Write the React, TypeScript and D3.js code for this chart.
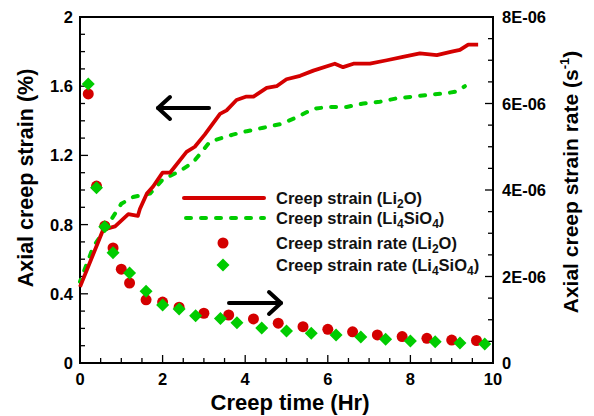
import React from "react";
import * as d3 from "d3";

const strainLi2OTime = [0, 0.56, 0.85, 1.17, 1.4, 1.45, 1.62, 1.77, 2.0, 2.18, 2.58, 2.78, 3.02, 3.39, 3.55, 3.79, 4.03, 4.2, 4.52, 4.76, 5.0, 5.33, 5.65, 6.17, 6.37, 6.62, 7.02, 7.43, 7.82, 8.23, 8.64, 9.0, 9.2, 9.4, 9.64];
const strainLi2O = [0.44, 0.77, 0.79, 0.86, 0.85, 0.89, 0.98, 1.02, 1.10, 1.10, 1.22, 1.25, 1.32, 1.44, 1.46, 1.52, 1.54, 1.54, 1.59, 1.60, 1.64, 1.66, 1.69, 1.73, 1.71, 1.73, 1.73, 1.75, 1.77, 1.79, 1.78, 1.80, 1.81, 1.84, 1.84];

const strainLi4SiO4Time = [0, 0.32, 0.65, 1.0, 1.29, 1.7, 2.0, 2.42, 2.74, 3.15, 3.7, 4.04, 4.44, 4.84, 5.25, 5.65, 6.05, 6.46, 6.86, 7.26, 7.67, 8.07, 8.47, 8.89, 9.12, 9.32];
const strainLi4SiO4 = [0.47, 0.67, 0.79, 0.92, 0.96, 0.98, 1.06, 1.11, 1.16, 1.28, 1.32, 1.34, 1.36, 1.38, 1.42, 1.47, 1.48, 1.48, 1.50, 1.51, 1.53, 1.54, 1.55, 1.56, 1.57, 1.60];

const rateLi2OTime = [0.2, 0.4, 0.6, 0.8, 1.0, 1.2, 1.6, 2.0, 2.4, 3.0, 3.6, 4.2, 4.8, 5.4, 6.0, 6.6, 7.2, 7.8, 8.4, 9.0, 9.6];
const rateLi2O = [6.22e-6, 4.09e-6, 3.17e-6, 2.66e-6, 2.17e-6, 1.85e-6, 1.46e-6, 1.41e-6, 1.29e-6, 1.15e-6, 1.11e-6, 1.02e-6, 0.92e-6, 0.84e-6, 0.78e-6, 0.72e-6, 0.65e-6, 0.61e-6, 0.57e-6, 0.53e-6, 0.52e-6];

const rateLi4SiO4Time = [0.2, 0.4, 0.6, 0.8, 1.2, 1.6, 2.0, 2.4, 2.8, 3.4, 3.8, 4.4, 5.0, 5.6, 6.2, 6.8, 7.4, 8.0, 8.6, 9.2, 9.8];
const rateLi4SiO4 = [6.45e-6, 4.05e-6, 3.15e-6, 2.55e-6, 2.08e-6, 1.66e-6, 1.34e-6, 1.25e-6, 1.09e-6, 1.03e-6, 0.93e-6, 0.81e-6, 0.74e-6, 0.69e-6, 0.65e-6, 0.60e-6, 0.55e-6, 0.51e-6, 0.49e-6, 0.46e-6, 0.44e-6];

const xTicks = [0, 2, 4, 6, 8, 10];
const leftTicks = [0, 0.4, 0.8, 1.2, 1.6, 2];
const leftTickLabels = ["0", "0.4", "0.8", "1.2", "1.6", "2"];
const rightTicks = [0, 2e-6, 4e-6, 6e-6, 8e-6];
const rightTickLabels = ["0", "2E-06", "4E-06", "6E-06", "8E-06"];

const RED = "#d40000";
const GREEN = "#00cc00";
const FONT = "Liberation Sans, Arial, sans-serif";

export default function App() {
  const L = 80, R = 493, T = 17, B = 363;
  const x = d3.scaleLinear().domain([0, 10]).range([L, R]);
  const yl = d3.scaleLinear().domain([0, 2]).range([B, T]);
  const yr = d3.scaleLinear().domain([0, 8e-6]).range([B, T]);

  const line = d3.line<[number, number]>().x(d => x(d[0])).y(d => yl(d[1]));
  const red = line(strainLi2OTime.map((t, i) => [t, strainLi2O[i]]))!;
  const green = line(strainLi4SiO4Time.map((t, i) => [t, strainLi4SiO4[i]]))!;

  const xMinor = d3.range(0, 10.01, 0.5);
  const lMinor = d3.range(0, 2.001, 0.1);
  const rMinor = d3.range(0, 8.01e-6, 0.5e-6);

  const diamond = (cx: number, cy: number, s: number) =>
    `M${cx},${cy - s}L${cx + s},${cy}L${cx},${cy + s}L${cx - s},${cy}Z`;

  const legendText = { fontFamily: FONT, fontWeight: 700, fontSize: 16.5, fill: "#111" } as const;
  const sub = 12;

  return (
    <svg width={594} height={416} style={{ position: "absolute", left: 0, top: 0 }}>
      <rect width={594} height={416} fill="#fff" />
      {/* minor ticks */}
      {xMinor.map((v, i) => (
        <line key={"xm" + i} x1={x(v)} x2={x(v)} y1={B} y2={B - (i % 4 === 0 ? 8 : 5)} stroke="#000" strokeWidth={1.3} />
      ))}
      {lMinor.map((v, i) => (
        <line key={"lm" + i} x1={L} x2={L + (i % 4 === 0 ? 8 : 5)} y1={yl(v)} y2={yl(v)} stroke="#000" strokeWidth={1.3} />
      ))}
      {rMinor.map((v, i) => (
        <line key={"rm" + i} x1={R} x2={R - (i % 4 === 0 ? 8 : 5)} y1={yr(v)} y2={yr(v)} stroke="#000" strokeWidth={1.3} />
      ))}
      <rect x={L} y={T} width={R - L} height={B - T} fill="none" stroke="#000" strokeWidth={2} />

      {/* lines */}
      <path d={green} fill="none" stroke={GREEN} strokeWidth={4} strokeDasharray="5 10" strokeDashoffset={3} strokeLinecap="round" />
      <path d={red} fill="none" stroke={RED} strokeWidth={3.8} strokeLinejoin="round" />

      {/* scatter */}
      {rateLi2OTime.map((t, i) => (
        <circle key={"rc" + i} cx={x(t)} cy={yr(rateLi2O[i])} r={5.5} fill={RED} />
      ))}
      {rateLi4SiO4Time.map((t, i) => (
        <path key={"gd" + i} d={diamond(x(t), yr(rateLi4SiO4[i]), 6.5)} fill={GREEN} />
      ))}

      {/* arrows */}
      <g stroke="#000" strokeWidth={4} fill="none" strokeLinecap="round" strokeLinejoin="round">
        <line x1={158} x2={209} y1={108} y2={108} />
        <polyline points="170,97 158,108 170,119" />
        <line x1={229} x2={281} y1={303} y2={303} />
        <polyline points="269,292 281,303 269,314" />
      </g>

      {/* legend */}
      <line x1={184} x2={264} y1={198} y2={198} stroke={RED} strokeWidth={4} strokeLinecap="round" />
      <line x1={186} x2={264} y1={218} y2={218} stroke={GREEN} strokeWidth={4} strokeDasharray="5 10" strokeLinecap="round" />
      <circle cx={223} cy={243} r={5.5} fill={RED} />
      <path d={diamond(223, 265, 6.5)} fill={GREEN} />
      <text x={276} y={204} {...legendText}>Creep strain (Li<tspan fontSize={sub} dy={4}>2</tspan><tspan dy={-4}>O)</tspan></text>
      <text x={276} y={224} {...legendText}>Creep strain (Li<tspan fontSize={sub} dy={4}>4</tspan><tspan dy={-4}>SiO</tspan><tspan fontSize={sub} dy={4}>4</tspan><tspan dy={-4}>)</tspan></text>
      <text x={276} y={249} {...legendText}>Creep strain rate (Li<tspan fontSize={sub} dy={4}>2</tspan><tspan dy={-4}>O)</tspan></text>
      <text x={276} y={271} {...legendText}>Creep strain rate (Li<tspan fontSize={sub} dy={4}>4</tspan><tspan dy={-4}>SiO</tspan><tspan fontSize={sub} dy={4}>4</tspan><tspan dy={-4}>)</tspan></text>

      {/* tick labels */}
      {xTicks.map(v => (
        <text key={"xt" + v} x={x(v)} y={B + 22} textAnchor="middle" fontFamily={FONT} fontWeight={700} fontSize={16.5}>{v}</text>
      ))}
      {leftTicks.map((v, i) => (
        <text key={"lt" + i} x={L - 7} y={yl(v) + 6} textAnchor="end" fontFamily={FONT} fontWeight={700} fontSize={16.5}>{leftTickLabels[i]}</text>
      ))}
      {rightTicks.map((v, i) => (
        <text key={"rt" + i} x={R + 9} y={yr(v) + 6} textAnchor="start" fontFamily={FONT} fontWeight={700} fontSize={16.5}>{rightTickLabels[i]}</text>
      ))}

      {/* axis titles */}
      <text x={290} y={410} textAnchor="middle" fontFamily={FONT} fontWeight={700} fontSize={22}>Creep time (Hr)</text>
      <text transform={`translate(33,178) rotate(-90)`} textAnchor="middle" fontFamily={FONT} fontWeight={700} fontSize={21.5}>Axial creep strain (%)</text>
      <text transform={`translate(578,182) rotate(-90)`} textAnchor="middle" fontFamily={FONT} fontWeight={700} fontSize={21}>
        Axial creep strain rate (s<tspan fontSize={13} dy={-9}>-1</tspan><tspan dy={9}>)</tspan>
      </text>
    </svg>
  );
}
